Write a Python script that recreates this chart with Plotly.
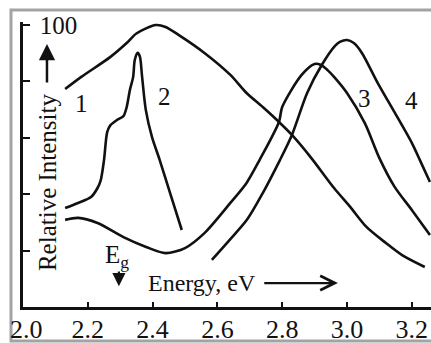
import plotly.graph_objects as go

# ---- data ----
x1 = [2.13, 2.18, 2.27, 2.32, 2.35, 2.41, 2.44, 2.48, 2.56, 2.64, 2.69, 2.74, 2.79, 2.83, 2.89, 2.96, 3.01, 3.06, 3.12, 3.17, 3.24]
y1 = [77.3, 81.6, 88.7, 93.6, 97.0, 100.0, 99.3, 96.5, 90.1, 82.3, 75.9, 70.9, 65.6, 61.0, 52.8, 42.2, 35.5, 28.4, 22.7, 18.4, 14.2]

x2 = [2.13, 2.17, 2.21, 2.23, 2.24, 2.25, 2.26, 2.27, 2.29, 2.31, 2.32, 2.33, 2.34, 2.345, 2.354, 2.361, 2.367, 2.379, 2.398, 2.422, 2.456, 2.49]
y2 = [35.1, 36.9, 39.0, 42.2, 45.0, 52.1, 62.1, 64.5, 66.3, 67.7, 70.9, 77.0, 81.6, 87.6, 90.1, 88.7, 82.3, 69.9, 60.3, 52.1, 39.7, 27.3]

x3 = [2.13, 2.17, 2.23, 2.31, 2.38, 2.44, 2.50, 2.56, 2.64, 2.69, 2.73, 2.79, 2.80, 2.86, 2.90, 2.92, 2.94, 2.96, 3.00, 3.055, 3.10, 3.147, 3.20, 3.256]
y3 = [30.9, 31.6, 29.8, 24.8, 21.3, 19.1, 20.9, 26.2, 36.9, 44.0, 52.1, 65.6, 70.9, 82.3, 86.2, 85.8, 84.0, 81.6, 75.9, 65.2, 52.8, 42.6, 34.4, 25.5]

x4 = [2.583, 2.638, 2.691, 2.74, 2.793, 2.83, 2.877, 2.922, 2.963, 2.978, 3.0, 3.021, 3.046, 3.095, 3.148, 3.2, 3.225, 3.256]
y4 = [16.7, 23.8, 30.9, 40.4, 52.1, 61.0, 75.9, 85.8, 92.6, 94.0, 94.7, 93.6, 90.1, 79.4, 68.8, 58.2, 52.1, 44.3]

x_ticks = [2.0, 2.2, 2.4, 2.6, 2.8, 3.0, 3.2]
x_tick_labels = ["\u00a02.0", "2.2", "2.4", "2.6", "2.8", "3.0", "3.2"]
y_ticks = [0, 20, 40, 60, 80, 100]
y_tick_labels = ["", "", "", "", "", "100"]

curve_labels = ["1", "2", "3", "4"]
curve_label_x = [2.181, 2.438, 3.055, 3.200]
curve_label_y = [72.3, 74.5, 74.1, 73.4]

FONT = "Liberation Serif, Times New Roman, serif"
INK = "#111111"

fig = go.Figure()
for xs, ys in [(x1, y1), (x2, y2), (x3, y3), (x4, y4)]:
    fig.add_trace(go.Scatter(x=xs, y=ys, mode="lines", line=dict(color=INK, width=2.6, shape="spline", smoothing=0.8),
                             showlegend=False, hoverinfo="skip"))

ann = []
for t, xx, yy in zip(curve_labels, curve_label_x, curve_label_y):
    ann.append(dict(x=xx, y=yy, text=t, showarrow=False, font=dict(family=FONT, size=25, color=INK)))

ann.append(dict(x=2.074, y=44.3, text="Relative Intensity", textangle=-90, showarrow=False,
                font=dict(family=FONT, size=25, color=INK)))
# up arrow
ann.append(dict(x=2.074, y=93.3, ax=2.074, ay=79.1, axref="x", ayref="y", xref="x", yref="y", text="",
                showarrow=True, arrowhead=2, arrowsize=1.3, arrowwidth=2.5, arrowcolor=INK))
# Eg
ann.append(dict(x=2.29, y=17.8, text="E<sub>g</sub>", showarrow=False, font=dict(family=FONT, size=25, color=INK)))
ann.append(dict(x=2.296, y=7.4, ax=2.296, ay=13.1, axref="x", ayref="y", xref="x", yref="y", text="",
                showarrow=True, arrowhead=2, arrowsize=1.2, arrowwidth=2.2, arrowcolor=INK))
# Energy label and arrow
ann.append(dict(x=2.552, y=8.5, text="Energy, eV", showarrow=False, font=dict(family=FONT, size=24, color=INK)))
ann.append(dict(x=2.972, y=8.5, ax=2.740, ay=8.5, axref="x", ayref="y", xref="x", yref="y", text="",
                showarrow=True, arrowhead=5, arrowsize=1.3, arrowwidth=2.2, arrowcolor=INK))

W, H = 431, 343
L, R, T, B = 23, 0, 22, 36
pw, ph = W - L - R, H - T - B

def px2paper_x(px):
    return (px - L) / pw

def py2paper_y(py):
    return (H - B - py) / ph

fig.update_layout(
    width=W, height=H,
    margin=dict(l=L, r=R, t=T, b=B, autoexpand=False),
    paper_bgcolor="white", plot_bgcolor="white",
    annotations=ann,
    shapes=[dict(type="rect", xref="paper", yref="paper",
                 x0=px2paper_x(11), x1=px2paper_x(445), y0=py2paper_y(341), y1=py2paper_y(10),
                 line=dict(color="#a3a3a3", width=3), fillcolor="rgba(0,0,0,0)", layer="below")],
    xaxis=dict(range=[2.0, 2.0 + pw / 324.0], showgrid=False, zeroline=False, showline=True,
               linecolor=INK, linewidth=2.5, ticks="inside", ticklen=5, tickwidth=2, tickcolor=INK,
               tickvals=x_ticks, ticktext=x_tick_labels, automargin=False, ticklabelstandoff=-3,
               tickfont=dict(family=FONT, size=26, color=INK)),
    yaxis=dict(range=[0, ph / 2.82], showgrid=False, zeroline=False, showline=True,
               linecolor=INK, linewidth=2.5, ticks="inside", ticklen=7, tickwidth=2, tickcolor=INK,
               tickvals=y_ticks, ticktext=y_tick_labels, ticklabelposition="inside",
               ticklabeloverflow="allow", automargin=False, ticklabelstandoff=12,
               tickfont=dict(family=FONT, size=25, color=INK)),
)

fig.write_html("out.html", config={"displayModeBar": False},
               post_script="document.body.style.margin='0';document.body.style.overflow='hidden';")
